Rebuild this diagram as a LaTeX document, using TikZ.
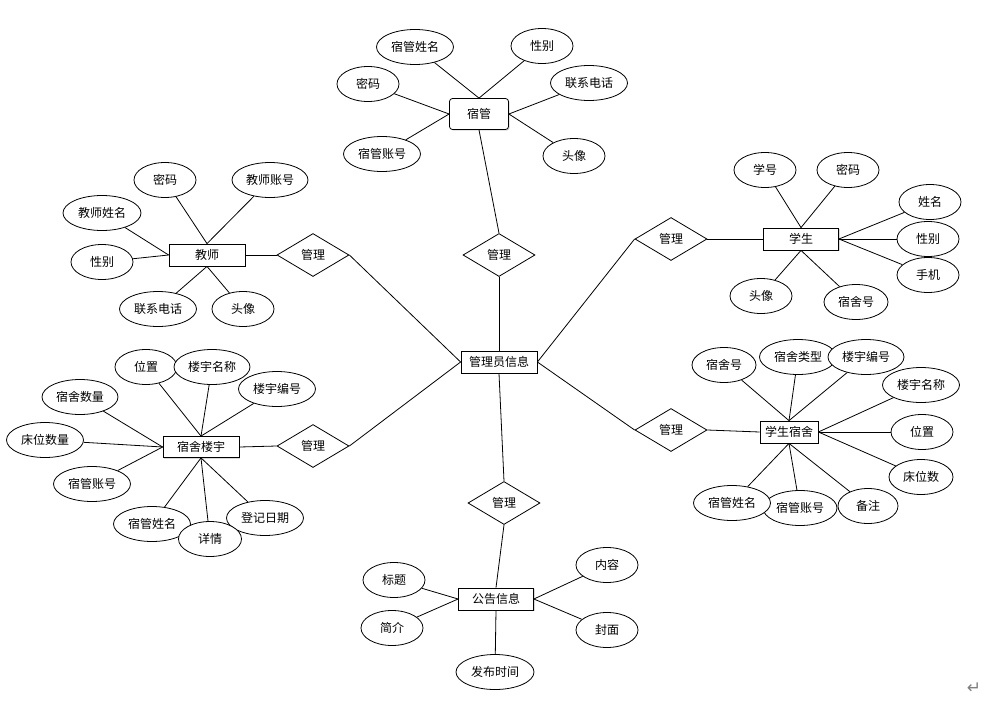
\documentclass[tikz,border=0pt]{standalone}
\usepackage{fontspec}
\setmainfont{Noto Sans CJK SC}
\newfontfamily\symfont{DejaVu Sans}
\usetikzlibrary{shapes.geometric,shadows}

\begin{document}
\begin{tikzpicture}[x=1pt, y=-1pt,
  entity/.style={draw, rectangle, minimum width=76pt, minimum height=22pt,
                 fill=white, inner sep=0pt, line width=0.8pt,
                 font=\fontsize{12}{13}\selectfont,
                 drop shadow={shadow xshift=1.2pt, shadow yshift=-1.2pt, opacity=0.3, fill=gray}},
  attr/.style={draw, ellipse, minimum width=62pt, minimum height=35pt, inner sep=0pt,
               fill=white, line width=0.8pt, font=\fontsize{12}{13}\selectfont},
  attrw/.style={attr, minimum width=77pt},
  rel/.style={draw, diamond, minimum width=72pt, minimum height=43pt, inner sep=0pt,
              fill=white, line width=0.8pt, font=\fontsize{12}{13}\selectfont},
  line/.style={-, line width=0.8pt}
]
  \useasboundingbox (0,0) rectangle (1002,702);

  \node[entity] (gly)   at (499,362)  {管理员信息};
  \node[entity, rounded corners=3pt, minimum width=59pt, minimum height=31pt] (sg) at (479,114) {宿管};
  \node[entity] (js)    at (207,255)  {教师};
  \node[entity, minimum width=75pt] (xs) at (801,239) {学生};
  \node[entity, minimum height=21pt] (ly) at (201,447) {宿舍楼宇};
  \node[entity, minimum width=58pt] (ss) at (789,432) {学生宿舍};
  \node[entity, minimum width=75pt] (gg) at (496,599) {公告信息};

  \node[rel] (r1) at (499,255) {管理};
  \node[rel] (r2) at (313,255) {管理};
  \node[rel] (r3) at (313,446) {管理};
  \node[rel] (r4) at (671,239) {管理};
  \node[rel] (r5) at (671,430) {管理};
  \node[rel] (r6) at (504,503) {管理};

  % 宿管
  \node[attrw] (sgxm) at (415,47)  {宿管姓名};
  \node[attr]  (sgxb) at (542,46)  {性别};
  \node[attr]  (sgmm) at (368,84)  {密码};
  \node[attrw] (sgdh) at (589,83)  {联系电话};
  \node[attrw] (sgzh) at (382,154) {宿管账号};
  \node[attr]  (sgtx) at (574,156) {头像};
  % 教师
  \node[attr]  (jsmm) at (165,180) {密码};
  \node[attrw, minimum width=76pt] (jszh) at (270,180) {教师账号};
  \node[attrw, minimum width=78pt] (jsxm) at (102,213) {教师姓名};
  \node[attr]  (jsxb) at (102,262) {性别};
  \node[attrw] (jsdh) at (158,309) {联系电话};
  \node[attr]  (jstx) at (243,309) {头像};
  % 学生
  \node[attr]  (xsxh) at (765,170) {学号};
  \node[attr]  (xsmm) at (848,170) {密码};
  \node[attr]  (xsxm) at (930,202) {姓名};
  \node[attr]  (xsxb) at (928,239) {性别};
  \node[attr]  (xssj) at (928,275) {手机};
  \node[attr]  (xstx) at (761,296) {头像};
  \node[attr, minimum width=64pt] (xssh) at (856,302) {宿舍号};
  % 学生宿舍
  \node[attr, minimum width=64pt] (sssh) at (724,365) {宿舍号};
  \node[attrw] (sslx) at (798,357) {宿舍类型};
  \node[attrw, minimum width=76pt] (ssbh) at (866,357) {楼宇编号};
  \node[attrw] (ssmc) at (921,385) {楼宇名称};
  \node[attr]  (sswz) at (922,432) {位置};
  \node[attr, minimum width=64pt] (sscw) at (921,477) {床位数};
  \node[attrw, minimum width=74pt] (sszh) at (800,508) {宿管账号};
  \node[attrw] (ssxm) at (732,503) {宿管姓名};
  \node[attr, minimum width=60pt] (ssbz) at (868,506) {备注};
  % 宿舍楼宇
  \node[attr]  (lywz) at (146,367) {位置};
  \node[attrw, minimum width=76pt] (lymc) at (212,367) {楼宇名称};
  \node[attrw] (lybh) at (277,389) {楼宇编号};
  \node[attrw, minimum width=76pt] (lyss) at (80,397)  {宿舍数量};
  \node[attrw] (lycw) at (45,440)  {床位数量};
  \node[attrw] (lyzh) at (92,484)  {宿管账号};
  \node[attrw] (lyxm) at (152,524) {宿管姓名};
  \node[attrw] (lyrq) at (265,518) {登记日期};
  \node[attr, minimum width=63pt] (lyxq) at (210,539) {详情};
  % 公告信息
  \node[attr]  (ggbt) at (394,580) {标题};
  \node[attr]  (ggjj) at (392,628) {简介};
  \node[attr]  (ggnr) at (607,565) {内容};
  \node[attr]  (ggfm) at (607,630) {封面};
  \node[attrw, minimum width=78pt] (ggsj) at (495,672) {发布时间};

  \node[text=gray, font=\symfont\fontsize{17}{17}\selectfont] (ret) at (974,688) {↵};

  % relationships
  \draw[line] (sg.south) -- (r1.north);
  \draw[line] (r1.south) -- (gly.north);
  \draw[line] (js.east) -- (r2.west);
  \draw[line] (r2.east) -- (gly.west);
  \draw[line] (ly.east) -- (r3.west);
  \draw[line] (r3.east) -- (gly.west);
  \draw[line] (xs.west) -- (r4.east);
  \draw[line] (r4.west) -- (gly.east);
  \draw[line] (ss.west) -- (r5.east);
  \draw[line] (r5.west) -- (gly.east);
  \draw[line] (gly.south) -- (r6.north);
  \draw[line] (r6.south) -- (gg.north);
  % 宿管
  \draw[line] (sgxm) -- (sg.north);
  \draw[line] (sgxb) -- (sg.north);
  \draw[line] (sgmm) -- (sg.west);
  \draw[line] (sgzh) -- (sg.west);
  \draw[line] (sgdh) -- (sg.east);
  \draw[line] (sgtx) -- (sg.east);
  % 教师
  \draw[line] (jsmm) -- (js.north);
  \draw[line] (jszh) -- (js.north);
  \draw[line] (jsxm) -- (js.west);
  \draw[line] (jsxb) -- (js.west);
  \draw[line] (jsdh) -- (js.south);
  \draw[line] (jstx) -- (js.south);
  % 学生
  \draw[line] (xsxh) -- (xs.north);
  \draw[line] (xsmm) -- (xs.north);
  \draw[line] (xsxm) -- (xs.east);
  \draw[line] (xsxb) -- (xs.east);
  \draw[line] (xssj) -- (xs.east);
  \draw[line] (xstx) -- (xs.south);
  \draw[line] (xssh) -- (xs.south);
  % 学生宿舍
  \draw[line] (sssh) -- (ss.north);
  \draw[line] (sslx) -- (ss.north);
  \draw[line] (ssbh) -- (ss.north);
  \draw[line] (ssmc) -- (ss.east);
  \draw[line] (sswz) -- (ss.east);
  \draw[line] (sscw) -- (ss.east);
  \draw[line] (ssxm) -- (ss.south);
  \draw[line] (sszh) -- (ss.south);
  \draw[line] (ssbz) -- (ss.south);
  % 宿舍楼宇
  \draw[line] (lywz) -- (ly.north);
  \draw[line] (lymc) -- (ly.north);
  \draw[line] (lybh) -- (ly.north);
  \draw[line] (lyss) -- (ly.west);
  \draw[line] (lycw) -- (ly.west);
  \draw[line] (lyzh) -- (ly.west);
  \draw[line] (lyxm) -- (ly.south);
  \draw[line] (lyxq) -- (ly.south);
  \draw[line] (lyrq) -- (ly.south);
  % 公告信息
  \draw[line] (ggbt) -- (gg.west);
  \draw[line] (ggjj) -- (gg.west);
  \draw[line] (ggnr) -- (gg.east);
  \draw[line] (ggfm) -- (gg.east);
  \draw[line] (ggsj) -- (gg.south);

\end{tikzpicture}
\end{document}
